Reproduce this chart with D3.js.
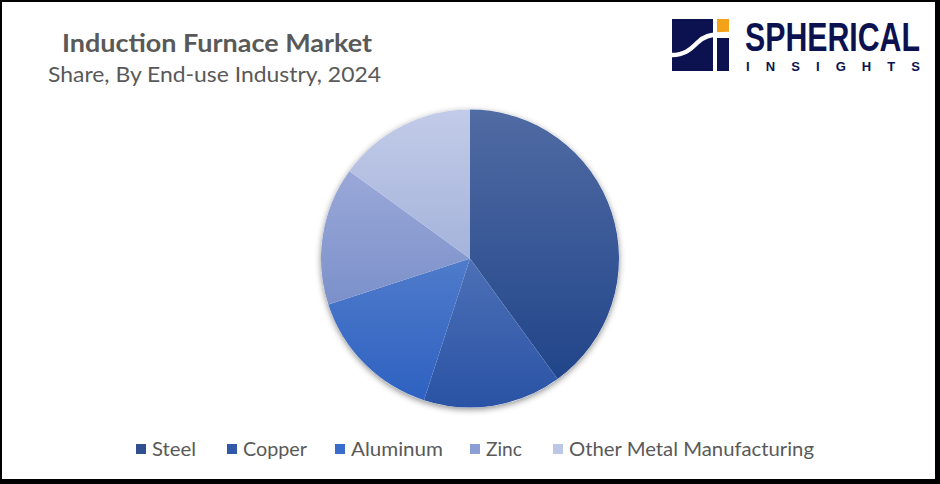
<!DOCTYPE html>
<html><head><meta charset="utf-8">
<script src="https://cdn.jsdelivr.net/npm/d3@7/dist/d3.min.js"></script>
<style>html,body{margin:0;padding:0;background:#fff;}svg{display:block;}</style>
</head><body>
<svg id="chart" width="940" height="484"></svg>
<script>
const categories = ["Steel", "Copper", "Aluminum", "Zinc", "Other Metal Manufacturing"];
const shares = [40, 15, 15, 15, 15];
const colorTop = ["#516ba3", "#4d70b6", "#4f7bca", "#9aa8d8", "#c2cbe8"];
const colorBottom = ["#21458a", "#2a53a5", "#2e61c1", "#7b90ca", "#a5b3db"];
const legendColors = ["#2f4f90", "#3158a9", "#3a6ccc", "#8b9fd6", "#bcc6e5"];
const titleText = "Induction Furnace Market";
const subtitleText = "Share, By End-use Industry, 2024";

const svg = d3.select("#chart");
const W = 940, H = 484;
svg.append("rect").attr("width", W).attr("height", H).attr("fill", "#fff");

const defs = svg.append("defs");
categories.forEach((c, i) => {
  const g = defs.append("linearGradient").attr("id", "g" + i)
    .attr("x1", 0).attr("y1", 0).attr("x2", 0).attr("y2", 1);
  g.append("stop").attr("offset", "0%").attr("stop-color", colorTop[i]);
  g.append("stop").attr("offset", "100%").attr("stop-color", colorBottom[i]);
});
const f = defs.append("filter").attr("id", "sh").attr("x", "-20%").attr("y", "-20%").attr("width", "140%").attr("height", "140%");
f.append("feDropShadow").attr("dx", 0).attr("dy", 2).attr("stdDeviation", 3).attr("flood-color", "#000").attr("flood-opacity", 0.45);

// Titles
svg.append("text").attr("x", 62).attr("y", 52)
  .attr("font-family", "Lato, 'Open Sans', sans-serif").attr("font-weight", "bold")
  .attr("font-size", 24).attr("fill", "#595959")
  .attr("textLength", 310).attr("lengthAdjust", "spacingAndGlyphs").text(titleText);
svg.append("text").attr("x", 48).attr("y", 82)
  .attr("font-family", "Lato, 'Open Sans', sans-serif")
  .attr("font-size", 22).attr("fill", "#595959")
  .attr("textLength", 333).attr("lengthAdjust", "spacingAndGlyphs").text(subtitleText);

// Pie
const cx = 470, cy = 258.5, R = 149;
const pie = d3.pie().sort(null).value(d => d)(shares);
const arc = d3.arc().innerRadius(0).outerRadius(R);
const pg = svg.append("g").attr("transform", `translate(${cx},${cy})`);
pg.append("circle").attr("r", R).attr("fill", "#fff").attr("filter", "url(#sh)");
pg.selectAll("path").data(pie).join("path")
  .attr("d", arc).attr("fill", (d, i) => `url(#g${i})`)
  .attr("stroke", "none");

// Legend
const legendX = [136, 227, 335, 470, 553];
const legendW = [44, 64, 92, 36, 245];
const lg = svg.append("g");
categories.forEach((c, i) => {
  lg.append("rect").attr("x", legendX[i]).attr("y", 444).attr("width", 10).attr("height", 10).attr("fill", legendColors[i]);
  lg.append("text").attr("x", legendX[i] + 16).attr("y", 456)
    .attr("font-family", "Lato, 'Open Sans', sans-serif").attr("font-size", 20)
    .attr("fill", "#595959")
    .attr("textLength", legendW[i]).attr("lengthAdjust", "spacingAndGlyphs").text(c);
});

// Logo
const logo = svg.append("g");
logo.append("rect").attr("x", 672).attr("y", 19).attr("width", 41).attr("height", 52).attr("fill", "#0c1250");
logo.append("rect").attr("x", 717).attr("y", 19).attr("width", 12).attr("height", 16).attr("fill", "#f5a21b");
logo.append("rect").attr("x", 717).attr("y", 38).attr("width", 12).attr("height", 33).attr("fill", "#0c1250");
logo.append("path").attr("d", "M672,55 C684,55 690,50 697,43 C703,37 708,34 729,34")
  .attr("fill", "none").attr("stroke", "#fff").attr("stroke-width", 4.5);
logo.append("text").attr("x", 745).attr("y", 51)
  .attr("font-family", "'Liberation Sans', Arial, sans-serif").attr("font-weight", "bold")
  .attr("font-size", 40).attr("fill", "#0c1250")
  .attr("textLength", 175).attr("lengthAdjust", "spacingAndGlyphs").text("SPHERICAL");
logo.append("text").attr("x", 746).attr("y", 71)
  .attr("font-family", "'Liberation Sans', Arial, sans-serif").attr("font-weight", "bold")
  .attr("font-size", 13).attr("fill", "#0c1250")
  .attr("textLength", 174).attr("lengthAdjust", "spacing").text("INSIGHTS");

// Border
svg.append("rect").attr("x", 0).attr("y", 0).attr("width", W).attr("height", 2).attr("fill", "#000");
svg.append("rect").attr("x", 0).attr("y", 0).attr("width", 2).attr("height", H).attr("fill", "#000");
svg.append("rect").attr("x", W - 5).attr("y", 0).attr("width", 5).attr("height", H).attr("fill", "#000");
svg.append("rect").attr("x", 0).attr("y", H - 5).attr("width", W).attr("height", 5).attr("fill", "#000");
</script>
</body></html>
